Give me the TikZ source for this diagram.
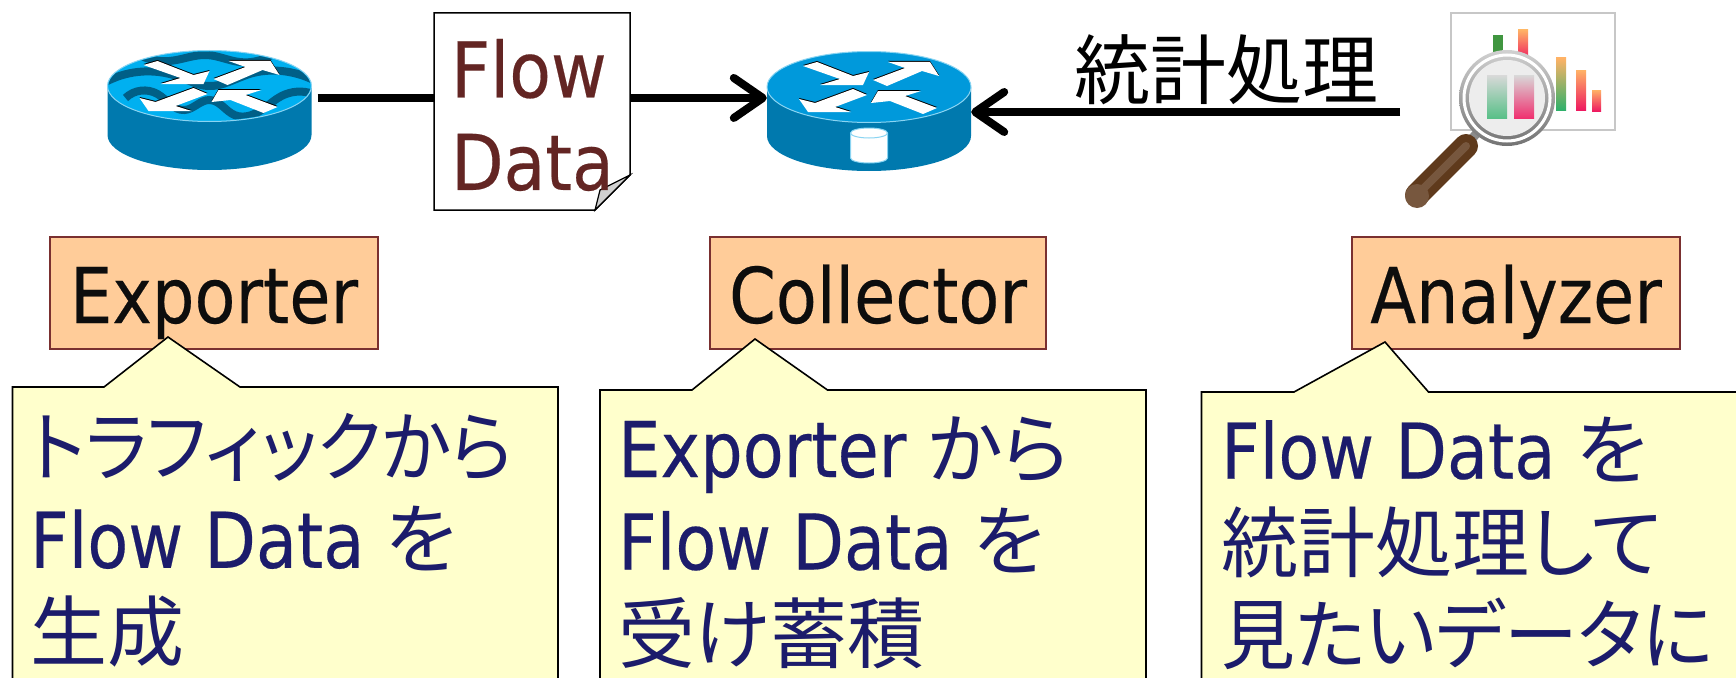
\documentclass[tikz,border=0pt]{standalone}
\usepackage{xcolor}
\usepackage{fontspec}
\usepackage{tikz}
\usetikzlibrary{arrows.meta, calc, hobby}
\setmainfont[FakeStretch=0.87, FakeBold=0.25]{DejaVu Sans}
\newfontfamily\docfont[FakeStretch=0.885, FakeBold=0.25]{DejaVu Sans}
\newfontfamily\jpfont[RawFeature=+palt]{Noto Sans CJK JP}
\newfontfamily\jptight[RawFeature=+palt, FakeStretch=0.93]{Noto Sans CJK JP}
\newfontfamily\jpmid[RawFeature=+palt, FakeStretch=0.96]{Noto Sans CJK JP}
\newcommand{\jp}[1]{{\jpfont #1}}
\definecolor{roledge}{HTML}{7A3030}
\definecolor{rolefill}{HTML}{FFCC99}
\definecolor{notefill}{HTML}{FFFFCC}
\definecolor{notetext}{HTML}{1C1C6B}
\definecolor{doctext}{HTML}{632523}
\definecolor{routerside}{HTML}{0079AE}
\definecolor{routerrim}{HTML}{8AD4F2}
\definecolor{routerwave}{HTML}{005F87}
\definecolor{exporttop}{HTML}{00B0F0}
\definecolor{collecttop}{HTML}{0099DB}
\definecolor{barpink}{HTML}{EE1A60}
\definecolor{bargreen}{HTML}{2FB06A}
\definecolor{handlebrown}{HTML}{5F3A1C}
\tikzset{
	bigtext/.style={font=\fontsize{77}{92.5}\selectfont},
	rolebox/.style={bigtext, draw=roledge, line width=1.6pt, fill=rolefill, text=black!95, inner sep=0pt, minimum width=#1, text height=86pt, text depth=26pt},
	notebody/.style={draw=black, line width=1.6pt, fill=notefill},
	notelabel/.style={bigtext, text=notetext, align=left, anchor=north west, inner sep=0pt},
	flowline/.style={line width=8pt},
	flowarrow/.style={flowline, -{Straight Barb[length=29pt, width=40pt, round]}},
	routerspot/.style={inner sep=0pt, minimum width=204pt, minimum height=122pt},
	pics/routerbody/.style={code={
		\fill [routerside] (-102,0) -- (-102,49) arc [start angle=180, end angle=360, x radius=102pt, y radius=35pt] -- (102,0) -- cycle;
		\draw [fill=#1, draw=routerrim, line width=1pt] (0,0) ellipse [x radius=102pt, y radius=35.5pt];
	}},
	pics/routerarrows/.style={code={
		\foreach \dy/\arrowfill in {-1/black, 0/white} {
			\fill [\arrowfill] (-66,-21+\dy) -- (-52,-25+\dy) -- (-16,-11+\dy) -- (0,-15+\dy) -- (-6,-2+\dy) -- (-49,-2+\dy) -- (-29,-8+\dy) -- cycle;
			\fill [\arrowfill] (4,-7+\dy) -- (36,-19+\dy) -- (19,-25+\dy) -- (61,-25+\dy) -- (70,-11+\dy) -- (53,-16+\dy) -- (18,-1+\dy) -- cycle;
			\fill [\arrowfill] (-70,12+\dy) -- (-54,16+\dy) -- (-16,2+\dy) -- (-2,8+\dy) -- (-34,20+\dy) -- (-18,25+\dy) -- (-61,25+\dy) -- cycle;
			\fill [\arrowfill] (2,16+\dy) -- (9,4+\dy) -- (52,4+\dy) -- (36,9+\dy) -- (68,21+\dy) -- (54,27+\dy) -- (21,14+\dy) -- cycle;
		}
	}}
}
\begin{document}
\begin{tikzpicture}[x=1pt, y=-1pt]
	\clip (0,0) rectangle (1736,677);

	\pic at (209.5,86) {routerbody=exporttop};
	\begin{scope}[shift={(209.5,86)}]
		\clip (0,0) ellipse [x radius=101pt, y radius=34.5pt];
		\draw [routerwave, line width=8pt] (-70,-31) to [curve through={(-40,-25) .. (-3,-31) .. (30,-24)}] (62,-31);
		\draw [routerwave, line width=8pt] (-104,-4) to [curve through={(-72,-14) .. (-30,-9) .. (-2,0) .. (40,-12) .. (72,-15)}] (104,-6);
		\draw [routerwave, line width=8pt] (-84,12) to [curve through={(-52,8) .. (-25,24) .. (0,14) .. (25,29) .. (55,22) .. (72,10)}] (104,8);
	\end{scope}
	\pic at (209.5,86) {routerarrows};
	\node [routerspot] (exportrouter) at (209.5,110.5) {};

	\pic at (869,87) {routerbody=collecttop};
	\pic at (869,87) {routerarrows};
	\draw [fill=white, draw=routerrim, line width=1pt] (850.5,133) -- (850.5,158) arc [start angle=180, end angle=360, x radius=18.5pt, y radius=5pt] -- (887.5,133);
	\draw [fill=white, draw=routerrim, line width=1pt] (869,133) ellipse [x radius=18.5pt, y radius=5pt];
	\node [routerspot] (collectrouter) at (869,112) {};

	\draw [fill=white, line width=1.5pt] (434,13) -- (630,13) -- (630,175) -- (595,210) -- (434,210) -- cycle;
	\draw [fill=black!18, line width=1.2pt] (630,175) -- (595,210) -- (600,190) -- cycle;
	\node [bigtext, text=doctext, align=left, inner sep=0pt, minimum width=197pt] (flowdoc) at (532.5,115) {\docfont Flow\\\docfont Data};

	\draw [flowline] ([xshift=6pt]exportrouter.7.54) -- (exportrouter.7.54 -| flowdoc.west);
	\draw [flowarrow] (exportrouter.7.54 -| flowdoc.east) -- (exportrouter.7.54 -| collectrouter.west);

	\node [font=\fontsize{76}{76}\selectfont, inner sep=0pt] (statlabel) at (1226,70) {\jp{統計処理}};

	\draw [black!22, fill=white, line width=1.5pt] (1451,13) rectangle (1615,130);
	\fill [green!45!black!75] (1493,35) rectangle (1503,60);
	\shade [top color=orange!60, bottom color=barpink] (1518,30) rectangle (1528,60);
	\shade [top color=orange!60, bottom color=bargreen] (1556,58) rectangle (1566,110);
	\shade [top color=orange!60, bottom color=barpink] (1576,70) rectangle (1586,110);
	\shade [top color=orange!60, bottom color=barpink] (1592,90) rectangle (1601,111);

	\draw [line width=9pt, black!45] (1478,132) -- (1468,143);
	\draw [line width=24pt, line cap=round, handlebrown] (1466,146) -- (1417,195);
	\draw [line width=8pt, line cap=round, handlebrown!85!white] (1466,146) -- (1417,195);
	\fill [handlebrown!85!white] (1417,196) circle [radius=12pt];

	\shade [top color=black!18, bottom color=black!55] (1507,98) circle [radius=48pt];
	\draw [white, line width=3pt] (1507,98) circle [radius=43pt];
	\fill [black!7] (1507,98) circle [radius=38pt];
	\begin{scope}
		\clip (1507,98) circle [radius=38pt];
		\shade [top color=black!15, bottom color=bargreen!80] (1487,75) rectangle (1507,118);
		\shade [top color=black!15, bottom color=barpink!90] (1514,75) rectangle (1534,118);
	\end{scope}

	\draw [flowarrow] (1400,112) -- (collectrouter.east);

	\node [rolebox=328pt] (exporter) at (214,293) {Exporter};
	\node [rolebox=336pt] (collector) at (878,293) {Collector};
	\node [rolebox=328pt] (analyzer) at (1516,293) {Analyzer};

	\draw [notebody] (12.5,700) -- (12.5,387) -- (104,387) -- (168,337) -- (240,387) -- (558,387) -- (558,700);
	\node [notelabel] (exportnote) at (30,413) {{\jptight トラフィックから}\\Flow Data \jp{を}\\\jp{生成}};

	\draw [notebody] (600,700) -- (600,390) -- (692,390) -- (755,339) -- (827.5,390) -- (1146,390) -- (1146,700);
	\node [notelabel] (collectnote) at (618,416) {Exporter \jp{から}\\Flow Data \jp{を}\\\jp{受け蓄積}};

	\draw [notebody] (1201.5,700) -- (1201.5,392) -- (1294,392) -- (1385,342) -- (1428.5,392) -- (1760,392) -- (1760,700);
	\node [notelabel] (analyzenote) at (1221,417) {Flow Data \jp{を}\\\jp{統計処理して}\\{\jpmid 見たいデータに}};
\end{tikzpicture}
\end{document}
